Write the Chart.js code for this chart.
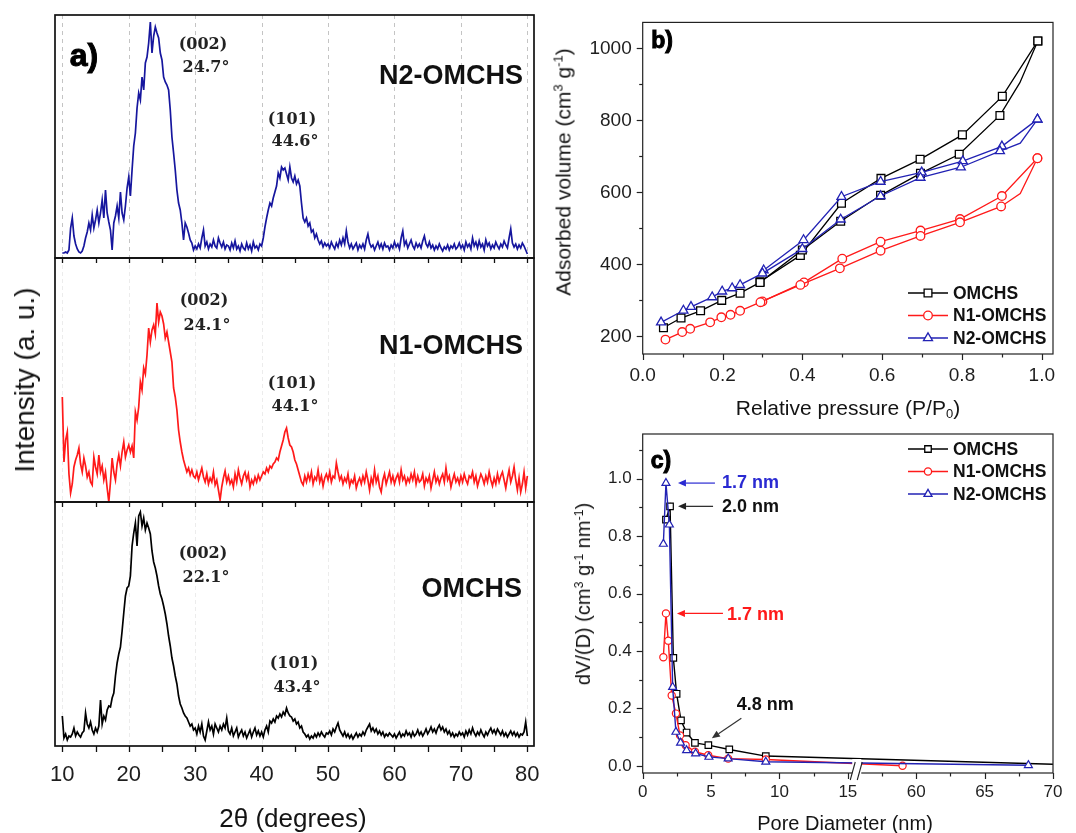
<!DOCTYPE html>
<html lang="en">
<head>
<meta charset="utf-8">
<title>XRD patterns, N2 isotherms and pore size distribution</title>
<script src="https://cdn.jsdelivr.net/npm/chart.js@4.4.1/dist/chart.umd.min.js"></script>
<style>
  html, body { margin:0; padding:0; background:#fff; }
  #fig { position:relative; width:1076px; height:833px; overflow:hidden;
         font-family:"Liberation Sans", Arial, sans-serif; color:#141414; }
  #fig canvas { position:absolute; left:0; top:0; }
  .txt { position:absolute; white-space:nowrap; line-height:1; transform:translate(-50%,-50%); }
  .rot { transform:translate(-50%,-50%) rotate(-90deg); }
  .right { transform:translate(-100%,-50%); }
  .tag { font-weight:bold; color:#000; -webkit-text-stroke:1px #000; }
  .sample { font-weight:bold; font-size:27px; color:#111; }
  .hkl { font-family:"DejaVu Serif", serif; font-weight:bold; font-size:16px; color:#222; }
  sup { font-size:62%; vertical-align:0.6em; line-height:0; }
  sub { font-size:62%; vertical-align:-0.3em; line-height:0; }
</style>
</head>
<body>
<div id="fig">
  <canvas id="xrdN2" width="1076" height="833"></canvas>
  <canvas id="xrdN1" width="1076" height="833"></canvas>
  <canvas id="xrdOMCHS" width="1076" height="833"></canvas>
  <canvas id="isotherm" width="1076" height="833"></canvas>
  <canvas id="poreSize" width="1076" height="833"></canvas>

  <!-- panel a -->
  <div class="txt rot" style="left:25px;top:380px;font-size:28px;">Intensity (a. u.)</div>
  <div class="txt" style="left:293px;top:818px;font-size:26px;">2θ (degrees)</div>
  <div class="txt tag" style="left:84px;top:55px;font-size:32px;">a)</div>

  <div class="txt hkl" style="left:203px;top:44px;">(002)</div>
  <div class="txt hkl" style="left:206px;top:67px;">24.7°</div>
  <div class="txt hkl" style="left:292px;top:119px;">(101)</div>
  <div class="txt hkl" style="left:295px;top:141px;">44.6°</div>
  <div class="txt sample right" style="left:523px;top:75px;">N2-OMCHS</div>

  <div class="txt hkl" style="left:204px;top:300px;">(002)</div>
  <div class="txt hkl" style="left:207px;top:325px;">24.1°</div>
  <div class="txt hkl" style="left:292px;top:383px;">(101)</div>
  <div class="txt hkl" style="left:295px;top:406px;">44.1°</div>
  <div class="txt sample right" style="left:523px;top:345px;">N1-OMCHS</div>

  <div class="txt hkl" style="left:203px;top:553px;">(002)</div>
  <div class="txt hkl" style="left:206px;top:577px;">22.1°</div>
  <div class="txt hkl" style="left:294px;top:663px;">(101)</div>
  <div class="txt hkl" style="left:297px;top:687px;">43.4°</div>
  <div class="txt sample right" style="left:522px;top:588px;">OMCHS</div>

  <!-- panel b -->
  <div class="txt rot" style="left:563px;top:172px;font-size:21px;">Adsorbed volume (cm<sup>3</sup> g<sup>-1</sup>)</div>
  <div class="txt" style="left:848px;top:407px;font-size:21px;">Relative pressure (P/P<sub>0</sub>)</div>
  <div class="txt tag" style="left:662px;top:40px;font-size:23px;">b)</div>

  <!-- panel c -->
  <div class="txt rot" style="left:583px;top:594px;font-size:20px;">dV/(D) (cm<sup>3</sup> g<sup>-1</sup> nm<sup>-1</sup>)</div>
  <div class="txt" style="left:845px;top:823px;font-size:20px;">Pore Diameter (nm)</div>
  <div class="txt tag" style="left:661px;top:460px;font-size:23px;">c)</div>
</div>

<script>
const FONT = '"Liberation Sans", Arial, sans-serif';

// ---------- XRD patterns (2θ from 10° to 80° in 0.25° steps) ----------
const twoThetaStart = 10;
const twoThetaStep = 0.25;
const twoThetaTicks = [10, 20, 30, 40, 50, 60, 70, 80];

const intensityN2 = [
  5,5,6,5,8,30,40,22,14,9, 6,5,7,12,20,26,35,28,43,30,
  38,48,35,45,58,40,68,45,36,28, 8,35,42,52,40,66,45,38,52,70,
  81,62,88,112,125,150,165,158,181,168, 195,201,215,236,205,222,231,225,220,205,
  198,181,176,173,168,148,121,105,88,68, 55,48,35,18,35,31,25,18,15,8,
  12,9,14,10,20,28,12,16,9,14, 11,18,12,10,20,15,11,16,9,13,
  12,8,15,10,17,9,12,7,14,10, 8,15,9,13,7,16,10,12,8,14,
  12,20,31,40,48,55,52,60,66,72, 85,80,91,88,90,84,78,91,80,76,
  82,74,78,72,55,40,36,40,32,35, 26,28,20,24,18,14,17,11,15,12,
  14,10,16,12,9,15,11,18,13,20, 14,27,16,10,14,9,12,15,8,13,
  10,14,9,18,24,15,11,13,8,12, 16,10,14,9,15,11,12,8,13,10,
  16,11,14,9,20,27,13,17,10,14, 18,12,9,15,11,14,10,17,22,14,
  11,16,10,13,8,12,9,14,10,7, 11,9,13,8,12,10,14,9,11,15,
  10,13,8,16,11,14,9,20,12,16, 10,17,11,14,8,18,12,15,9,13,
  10,16,12,9,14,11,17,13,10,20, 29,15,11,14,9,13,10,15,12,8,4
];

const intensityN1 = [
  105,40,62,70,28,9,18,35,42,47, 54,38,30,44,36,25,30,20,17,45,
  35,28,47,30,36,22,30,14,0,20, 44,30,22,38,47,36,50,60,45,52,
  57,50,56,44,90,82,95,120,112,134, 128,147,174,160,172,177,168,199,180,190,
  186,178,164,170,160,150,140,114,105,92, 72,60,50,42,36,30,34,27,32,26,
  24,30,22,28,34,25,20,28,18,24, 20,30,17,22,12,2,15,24,31,20,
  26,18,22,15,28,20,32,24,18,26, 30,22,28,15,22,18,25,20,27,22,
  26,30,28,34,30,36,34,38,40,44, 42,50,56,62,70,74,64,57,55,50,
  42,38,32,26,20,17,26,20,28,22, 30,18,25,22,32,20,26,16,24,28,
  22,30,20,26,24,39,30,22,26,18, 24,20,28,16,22,19,26,14,20,24,
  18,26,20,30,22,12,24,18,32,20, 26,15,10,22,28,18,24,30,20,26,
  18,24,28,20,32,22,26,18,24,20, 28,22,30,18,26,20,22,28,16,24,
  20,26,14,22,30,20,25,18,24,28, 20,34,22,26,15,22,28,20,24,18,
  26,20,28,22,18,26,24,30,20,26, 16,22,28,24,18,26,20,30,22,16,
  24,18,28,20,26,30,22,14,24,32, 20,26,35,22,12,24,10,18,30,14,26
];

const intensityOMCHS = [
  30,8,12,6,10,9,12,18,10,14, 11,9,13,15,33,22,18,24,16,12,
  18,14,20,46,22,30,26,36,40,39, 48,53,70,83,92,99,115,133,150,158,
  160,170,200,213,223,200,230,234,220,228, 216,223,218,212,195,184,178,170,160,152,
  147,140,132,122,110,100,88,80,70,62, 50,42,38,33,30,28,24,20,22,16,
  18,12,20,14,22,10,6,15,24,16, 20,12,22,18,14,20,16,22,18,28,
  15,12,18,10,14,18,9,13,16,10, 14,8,12,16,9,14,18,11,15,10,
  14,9,16,20,14,25,23,27,24,30, 28,32,29,34,31,38,33,30,29,25,
  27,22,24,18,20,14,12,9,11,7, 10,8,12,9,13,10,14,11,9,13,
  12,15,11,17,14,19,23,16,13,10, 14,9,12,8,11,7,10,13,9,12,
  10,14,11,16,19,22,15,18,14,17, 12,15,11,14,9,12,10,13,11,9,
  12,8,11,14,9,12,10,15,11,13, 9,14,10,12,16,11,14,10,13,17,
  12,15,19,14,17,13,18,21,16,19, 14,17,12,15,10,13,9,12,10,14,
  11,13,9,15,11,16,12,18,13,10, 14,11,16,12,9,14,11,15,18,13,
  16,12,17,14,11,15,10,13,9,12, 15,11,14,10,13,9,12,11,14,24,10
];

// ---------- N2 sorption isotherms ----------
const omchsAdsP = [0.052,0.096,0.145,0.198,0.244,0.294,0.400,0.496,0.596,0.696,0.793,0.895,0.945,0.990];
const omchsAdsV = [224,251,271,300,320,350,440,520,592,653,706,814,905,1021];
const omchsDesP = [0.990,0.901,0.801,0.695,0.597,0.498,0.395,0.294];
const omchsDesV = [1021,867,760,692,639,570,425,352];

const n1AdsP = [0.057,0.099,0.119,0.169,0.197,0.220,0.244,0.295,0.395,0.494,0.596,0.696,0.795,0.898,0.946,0.989];
const n1AdsV = [191,212,221,239,253,260,271,295,343,389,438,479,517,561,597,695];
const n1DesP = [0.989,0.900,0.795,0.696,0.596,0.500,0.404,0.300];
const n1DesV = [695,590,526,494,463,416,350,297];

const n2AdsP = [0.046,0.102,0.121,0.174,0.199,0.224,0.244,0.300,0.400,0.496,0.596,0.696,0.797,0.895,0.946,0.989];
const n2AdsV = [239,272,282,309,325,334,343,375,443,525,590,641,670,715,737,803];
const n2DesP = [0.989,0.900,0.802,0.699,0.596,0.498,0.403,0.303];
const n2DesV = [803,728,687,656,630,588,468,384];

// ---------- pore size distribution ----------
const omchsPoreD  = [1.70,2.0,2.24,2.48,2.80,3.21,3.82,4.8,6.33,9.0,72.0];
const omchsPoreDV = [0.858,0.904,0.376,0.251,0.158,0.116,0.080,0.072,0.057,0.034,0.003];
const n1PoreD  = [1.51,1.7,1.87,2.12,2.43,2.73,3.14,3.82,4.79,6.25,9.0,59.0];
const n1PoreDV = [0.378,0.531,0.436,0.245,0.182,0.106,0.072,0.049,0.037,0.025,0.022,0.0];
const n2PoreD  = [1.51,1.7,1.95,2.19,2.43,2.77,3.21,3.87,4.84,6.25,9.0,68.2];
const n2PoreDV = [0.773,0.985,0.840,0.274,0.118,0.080,0.054,0.043,0.031,0.025,0.014,0.002];

// the diameter axis skips 15.65–55.65 nm
const BREAK_AT = 15.65, BREAK_SKIP = 40;
const toAxis = d => (d > BREAK_AT + BREAK_SKIP / 2 ? d - BREAK_SKIP : d);
const fromAxis = v => (v > BREAK_AT ? v + BREAK_SKIP : v);

// ---------- helpers ----------
const COLORS = { OMCHS: '#000000', N1: '#ff1a1a', N2: '#2222b4', xrdN2: '#16169e' };
const xrdPoints = vals => vals.map((v, i) => ({ x: twoThetaStart + i * twoThetaStep, y: v }));
const pairs = (xs, ys, f = v => v) => xs.map((x, i) => ({ x: f(x), y: ys[i] }));

function seg(ctx, x1, y1, x2, y2) { ctx.beginPath(); ctx.moveTo(x1, y1); ctx.lineTo(x2, y2); ctx.stroke(); }

function marker(ctx, style, x, y, r, color) {
  ctx.beginPath();
  if (style === 'rect') {
    const s = r * Math.SQRT1_2; ctx.rect(x - s, y - s, 2 * s, 2 * s);
  } else if (style === 'triangle') {
    for (let k = 0; k < 3; k++) {
      const ang = k * 2 * Math.PI / 3, px = x + Math.sin(ang) * r, py = y - Math.cos(ang) * r;
      k ? ctx.lineTo(px, py) : ctx.moveTo(px, py);
    }
    ctx.closePath();
  } else {
    ctx.arc(x, y, r, 0, Math.PI * 2);
  }
  ctx.fillStyle = '#fff'; ctx.fill();
  ctx.strokeStyle = color; ctx.lineWidth = 1.3; ctx.stroke();
}

// frame, grid and ticks for the stacked XRD panels
const xrdFrame = {
  id: 'xrdFrame',
  beforeDatasetsDraw(chart, _a, o) {
    const { ctx, chartArea: a } = chart, x = chart.scales.x;
    ctx.save();
    ctx.strokeStyle = o.gridColor; ctx.lineWidth = 1; ctx.setLineDash(o.gridDash);
    for (const v of twoThetaTicks) {
      const px = Math.round(x.getPixelForValue(v)) + 0.5;
      seg(ctx, px, a.top, px, a.bottom);
    }
    ctx.restore();
  },
  afterDraw(chart, _a, o) {
    const { ctx, chartArea: a } = chart, x = chart.scales.x;
    ctx.save();
    ctx.strokeStyle = '#111'; ctx.lineWidth = 1.3;
    for (let v = 10; v <= 80; v += 5) {
      const px = Math.round(x.getPixelForValue(v)) + 0.5;
      if (o.topTicks) seg(ctx, px, a.top, px, a.top + 5);
      if (o.bottomTicks) seg(ctx, px, a.bottom, px, a.bottom + 6);
    }
    ctx.lineWidth = 1.7;
    ctx.strokeRect(a.left, a.top, a.right - a.left, a.bottom - a.top);
    ctx.restore();
  }
};

function xrdChart(id, values, color, areaTop, areaBottom, withAxis, frame) {
  const axisH = withAxis ? 50 : 0;
  return new Chart(document.getElementById(id), {
    type: 'line',
    data: { datasets: [{ data: xrdPoints(values), borderColor: color, borderWidth: 1.7,
                         pointRadius: 0, tension: 0, fill: false }] },
    options: {
      responsive: false, animation: false, devicePixelRatio: 1, events: [],
      layout: { padding: { left: 55, right: 1076 - 534, top: areaTop, bottom: 833 - areaBottom - axisH } },
      plugins: { legend: { display: false }, tooltip: { enabled: false }, xrdFrame: frame },
      scales: {
        x: { type: 'linear', min: 8.9, max: 81, display: withAxis,
             grid: { display: false, drawTicks: false }, border: { display: false },
             ticks: { stepSize: 10, includeBounds: false, padding: 16, color: '#1e1e1e',
                      maxRotation: 0, autoSkip: false, font: { family: FONT, size: 22 } },
             afterFit: s => { if (withAxis) s.height = axisH; } },
        y: { type: 'linear', min: 0, max: areaBottom - areaTop, display: false }
      }
    },
    plugins: [xrdFrame]
  });
}

xrdChart('xrdN2', intensityN2, COLORS.xrdN2, 15, 258, false,
  { gridColor: '#c4c4c4', gridDash: [4, 4], topTicks: false, bottomTicks: false });
xrdChart('xrdN1', intensityN1, COLORS.N1, 258, 502, false,
  { gridColor: '#ececec', gridDash: [4, 3], topTicks: true, bottomTicks: false });
xrdChart('xrdOMCHS', intensityOMCHS, COLORS.OMCHS, 502, 746, true,
  { gridColor: '#ececec', gridDash: [4, 3], topTicks: true, bottomTicks: true });

// box, outward major/minor ticks and optional axis break for panels b and c
const axesFrame = {
  id: 'axesFrame',
  afterDraw(chart, _a, o) {
    const { ctx, chartArea: a, scales: { x, y } } = chart;
    ctx.save();
    ctx.strokeStyle = '#222'; ctx.lineWidth = 1.2;
    o.xMajor.forEach(v => { const p = Math.round(x.getPixelForValue(v)) + 0.5; seg(ctx, p, a.bottom, p, a.bottom + 6); });
    o.xMinor.forEach(v => { const p = Math.round(x.getPixelForValue(v)) + 0.5; seg(ctx, p, a.bottom, p, a.bottom + 3.5); });
    o.yMajor.forEach(v => { const p = Math.round(y.getPixelForValue(v)) + 0.5; seg(ctx, a.left - 6, p, a.left, p); });
    o.yMinor.forEach(v => { const p = Math.round(y.getPixelForValue(v)) + 0.5; seg(ctx, a.left - 3.5, p, a.left, p); });
    ctx.strokeRect(a.left, a.top, a.right - a.left, a.bottom - a.top);
    if (o.breakAt != null) {
      const bx = x.getPixelForValue(o.breakAt);
      ctx.fillStyle = '#fff';
      ctx.fillRect(bx - 4.5, a.bottom - 14, 9, 16);
      ctx.lineWidth = 1.1;
      seg(ctx, bx - 6.5, a.bottom + 7, bx - 1.5, a.bottom - 11);
      seg(ctx, bx + 0.5, a.bottom + 7, bx + 5.5, a.bottom - 11);
    }
    ctx.restore();
  }
};

// sample legend built from the labelled datasets
const sampleLegend = {
  id: 'sampleLegend',
  afterDraw(chart, _a, o) {
    const { ctx } = chart;
    const items = chart.data.datasets.filter(d => d.label);
    ctx.save();
    items.forEach((d, i) => {
      const yy = o.top + i * o.gap;
      ctx.strokeStyle = d.borderColor; ctx.lineWidth = 1.4;
      seg(ctx, o.x0, yy, o.x1, yy);
      marker(ctx, d.pointStyle, (o.x0 + o.x1) / 2, yy, d.markerSize, d.borderColor);
      ctx.fillStyle = '#111'; ctx.font = `bold ${o.size}px ${FONT}`;
      ctx.textBaseline = 'middle'; ctx.textAlign = 'left';
      ctx.fillText(d.label, o.textX, yy + 1);
    });
    ctx.restore();
  }
};

function sorptionSet(label, P, V, color, style, r, order, skipIndex) {
  return {
    label, data: pairs(P, V), borderColor: color, backgroundColor: '#fff',
    borderWidth: 1.3, pointStyle: style, markerSize: r,
    pointRadius: c => (c.dataIndex === skipIndex ? 0 : r),
    pointBorderWidth: 1.3, pointBackgroundColor: '#fff', tension: 0, order
  };
}

new Chart(document.getElementById('isotherm'), {
  type: 'line',
  data: { datasets: [
    sorptionSet('OMCHS', omchsAdsP, omchsAdsV, COLORS.OMCHS, 'rect', 5.5, 2, 12),
    sorptionSet('', omchsDesP, omchsDesV, COLORS.OMCHS, 'rect', 5.5, 2, -1),
    sorptionSet('N1-OMCHS', n1AdsP, n1AdsV, COLORS.N1, 'circle', 4.3, 1, 14),
    sorptionSet('', n1DesP, n1DesV, COLORS.N1, 'circle', 4.3, 1, -1),
    sorptionSet('N2-OMCHS', n2AdsP, n2AdsV, COLORS.N2, 'triangle', 5.2, 0, 14),
    sorptionSet('', n2DesP, n2DesV, COLORS.N2, 'triangle', 5.2, 0, -1)
  ] },
  options: {
    responsive: false, animation: false, devicePixelRatio: 1, events: [],
    layout: { padding: { left: 642.7 - 60, right: 23, top: 15, bottom: 833 - 354 - 50 } },
    plugins: {
      legend: { display: false }, tooltip: { enabled: false },
      axesFrame: { xMajor: [0, 0.2, 0.4, 0.6, 0.8, 1.0], xMinor: [0.1, 0.3, 0.5, 0.7, 0.9],
                   yMajor: [200, 400, 600, 800, 1000], yMinor: [300, 500, 700, 900] },
      sampleLegend: { x0: 908, x1: 948, textX: 953, top: 293, gap: 22.5, size: 17.5 }
    },
    scales: {
      x: { type: 'linear', min: 0, max: 1.028,
           grid: { display: false, drawTicks: false }, border: { display: false },
           ticks: { stepSize: 0.2, includeBounds: false, padding: 10, color: '#1e1e1e', maxRotation: 0,
                    font: { family: FONT, size: 19 }, callback: v => v.toFixed(1) },
           afterFit: s => { s.height = 50; } },
      y: { type: 'linear', min: 151, max: 1072.5,
           grid: { display: false, drawTicks: false }, border: { display: false },
           ticks: { stepSize: 200, includeBounds: false, padding: 11, color: '#1e1e1e',
                    font: { family: FONT, size: 19 }, callback: v => String(Math.round(v)) },
           afterFit: s => { s.width = 60; } }
    }
  },
  plugins: [axesFrame, sampleLegend]
});

// arrows and labels pointing at the distribution maxima
const peakNotes = {
  id: 'peakNotes',
  afterDatasetsDraw(chart, _a, o) {
    const { ctx, scales: { x, y } } = chart;
    ctx.save();
    for (const n of o.notes) {
      const px = x.getPixelForValue(toAxis(n.d)), py = y.getPixelForValue(n.v);
      const tx = px + n.tip[0], ty = py + n.tip[1], sx = px + n.tail[0], sy = py + n.tail[1];
      ctx.strokeStyle = n.color; ctx.fillStyle = n.color; ctx.lineWidth = 1.2;
      const ang = Math.atan2(ty - sy, tx - sx), L = 8, W = 3.5;
      const bx = tx - Math.cos(ang) * L, by = ty - Math.sin(ang) * L;
      seg(ctx, sx, sy, bx, by);
      ctx.beginPath();
      ctx.moveTo(tx, ty);
      ctx.lineTo(bx + Math.sin(ang) * W, by - Math.cos(ang) * W);
      ctx.lineTo(bx - Math.sin(ang) * W, by + Math.cos(ang) * W);
      ctx.closePath(); ctx.fill();
      ctx.fillStyle = n.textColor || n.color;
      ctx.font = `bold 18px ${FONT}`; ctx.textBaseline = 'middle'; ctx.textAlign = 'left';
      ctx.fillText(n.text, px + n.label[0], py + n.label[1]);
    }
    ctx.restore();
  }
};

function poreSet(label, D, dV, color, style, r, order) {
  return {
    label, data: pairs(D, dV, toAxis), borderColor: color, backgroundColor: '#fff',
    borderWidth: 1.4, pointStyle: style, markerSize: r, pointRadius: r,
    pointBorderWidth: 1.2, pointBackgroundColor: '#fff', tension: 0, order
  };
}

new Chart(document.getElementById('poreSize'), {
  type: 'line',
  data: { datasets: [
    poreSet('OMCHS', omchsPoreD, omchsPoreDV, COLORS.OMCHS, 'rect', 4.6, 2),
    poreSet('N1-OMCHS', n1PoreD, n1PoreDV, COLORS.N1, 'circle', 3.6, 1),
    poreSet('N2-OMCHS', n2PoreD, n2PoreDV, COLORS.N2, 'triangle', 4.6, 0)
  ] },
  options: {
    responsive: false, animation: false, devicePixelRatio: 1, events: [],
    layout: { padding: { left: 642.7 - 60, right: 23, top: 434, bottom: 833 - 773 - 45 } },
    plugins: {
      legend: { display: false }, tooltip: { enabled: false },
      axesFrame: { xMajor: [0, 5, 10, 15, 20, 25, 30], xMinor: [2.5, 7.5, 12.5, 17.5, 22.5, 27.5],
                   yMajor: [0, 0.2, 0.4, 0.6, 0.8, 1.0], yMinor: [0.1, 0.3, 0.5, 0.7, 0.9, 1.1],
                   breakAt: BREAK_AT },
      sampleLegend: { x0: 908, x1: 948, textX: 953, top: 449, gap: 22.5, size: 17.5 },
      peakNotes: { notes: [
        { d: n2PoreD[1], v: n2PoreDV[1], text: '1.7 nm', color: '#2a2ad2',
          tip: [12, 0], tail: [49, 0], label: [56, 0] },
        { d: omchsPoreD[1], v: omchsPoreDV[1], text: '2.0 nm', color: '#222', textColor: '#111',
          tip: [8, 0], tail: [43, 0], label: [52, 1] },
        { d: n1PoreD[1], v: n1PoreDV[1], text: '1.7 nm', color: '#ff1a1a',
          tip: [11, 0], tail: [57, 0], label: [61, 2] },
        { d: omchsPoreD[7], v: omchsPoreDV[7], text: '4.8 nm', color: '#333', textColor: '#111',
          tip: [3.5, -7], tail: [33, -27], label: [28.5, -40] }
      ] }
    },
    scales: {
      x: { type: 'linear', min: 0, max: 30,
           grid: { display: false, drawTicks: false }, border: { display: false },
           ticks: { stepSize: 5, includeBounds: false, padding: 9, color: '#1e1e1e', maxRotation: 0,
                    autoSkip: false, font: { family: FONT, size: 17 }, callback: v => String(fromAxis(v)) },
           afterFit: s => { s.height = 45; } },
      y: { type: 'linear', min: -0.025, max: 1.156,
           grid: { display: false, drawTicks: false }, border: { display: false },
           ticks: { stepSize: 0.2, includeBounds: false, padding: 11, color: '#1e1e1e',
                    font: { family: FONT, size: 17 }, callback: v => v.toFixed(1) },
           afterFit: s => { s.width = 60; } }
    }
  },
  plugins: [axesFrame, sampleLegend, peakNotes]
});
</script>
</body>
</html>
